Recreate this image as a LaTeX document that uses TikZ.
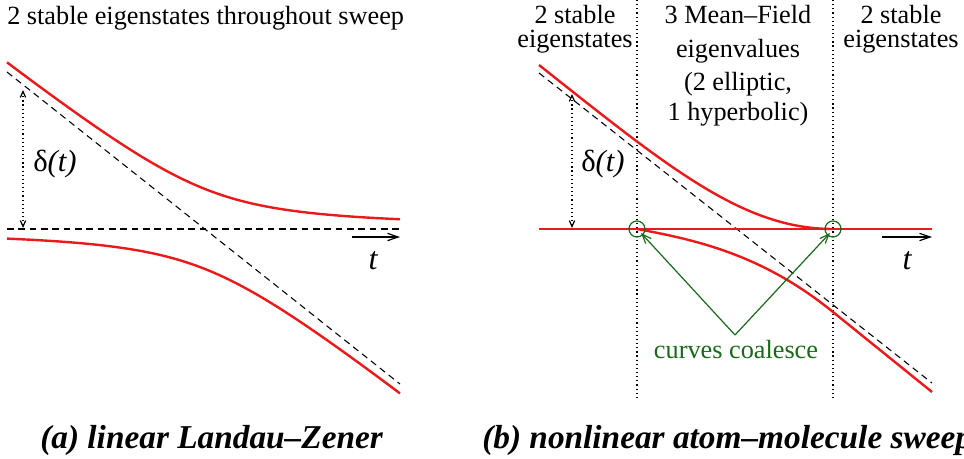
\documentclass[tikz,border=0pt]{standalone}
\usepackage{fontspec}
\setmainfont{Liberation Serif}
\usetikzlibrary{arrows.meta}
\definecolor{cred}{RGB}{235,25,25}
\definecolor{cgreen}{RGB}{25,105,25}
\begin{document}
\begin{tikzpicture}[x=0.75pt,y=-0.75pt,
  lbl/.style={inner sep=0pt,font=\fontsize{19.7pt}{24pt}\selectfont},
  dlbl/.style={inner sep=0pt,font=\fontsize{23pt}{28pt}\selectfont},
  tlbl/.style={inner sep=0pt,font=\fontsize{24pt}{28pt}\selectfont\itshape},
  captxt/.style={inner sep=0pt,font=\fontsize{25pt}{30pt}\selectfont\bfseries\itshape},
  redline/.style={draw=cred,line width=1.8pt},
  dashline/.style={draw=black,line width=0.8pt,dash pattern=on 5pt off 3.5pt},
  dotline/.style={draw=black,line width=0.9pt,dash pattern=on 0.9pt off 2.2pt},
  darrow/.style={dotline,{Straight Barb[length=4.5pt,width=4pt]}-{Straight Barb[length=4.5pt,width=4pt]}},
  tarrow/.style={draw=black,line width=0.9pt,-{Straight Barb[length=8pt,width=5.5pt]}},
  garrow/.style={draw=cgreen,line width=0.9pt,-{Straight Barb[length=7pt,width=5.5pt]}},
  gcirc/.style={circle,draw=cgreen,line width=0.9pt,minimum size=12pt,inner sep=0pt}]
\useasboundingbox (0,0) rectangle (964,459);

% ---------- panel (a) ----------
\node[lbl,anchor=base west] (topa) at (7,25) {2 stable eigenstates throughout sweep};
\coordinate (a-h0) at (7,229);
\coordinate (a-h1) at (400,229);
\coordinate (a-d0) at (7,72);
\coordinate (a-d1) at (400,384);
\draw[dashline] (a-h0) -- (a-h1);
\draw[dashline] (a-d0) -- (a-d1);
\draw[redline] plot[domain=7:400,samples=120,smooth]
  (\x,{229+0.3965*(\x-205)-10*sqrt(0.03965*(\x-205)*0.03965*(\x-205)+16)});
\draw[redline] plot[domain=7:400,samples=120,smooth]
  (\x,{229+0.3965*(\x-205)+10*sqrt(0.03965*(\x-205)*0.03965*(\x-205)+16)});
\coordinate (a-dtop) at (23,90);
\coordinate (a-dbot) at (23,228);
\draw[darrow] (a-dtop) -- (a-dbot);
\node[dlbl,anchor=base west] (a-delta) at (33,172) {δ\textit{(t)}};
\coordinate (a-t0) at (352,237);
\coordinate (a-t1) at (400,237);
\draw[tarrow] (a-t0) -- (a-t1);
\node[tlbl,anchor=base] (a-t) at (373,270) {t};
\node[captxt,anchor=base west] (capa) at (40,449) {(a) linear Landau–Zener};

% ---------- panel (b) ----------
\node[lbl,anchor=base] (bl1) at (575,24) {2 stable};
\node[lbl,anchor=base] (bl2) at (575,48) {eigenstates};
\node[lbl,anchor=base] (bm1) at (738,24) {3 Mean–Field};
\node[lbl,anchor=base] (bm2) at (738,58) {eigenvalues};
\node[lbl,anchor=base] (bm3) at (738,91) {(2 elliptic,};
\node[lbl,anchor=base] (bm4) at (738,121) {1 hyperbolic)};
\node[lbl,anchor=base] (br1) at (901,24) {2 stable};
\node[lbl,anchor=base] (br2) at (901,48) {eigenstates};

\coordinate (v1a) at (637,0);
\coordinate (v1b) at (637,400);
\coordinate (v2a) at (833,0);
\coordinate (v2b) at (833,400);
\draw[dotline] (v1a) -- (v1b);
\draw[dotline] (v2a) -- (v2b);

\coordinate (b-d0) at (539,73);
\coordinate (b-d1) at (932,383);
\draw[dashline] (b-d0) -- (b-d1);

\coordinate (b-h0) at (539,229);
\coordinate (b-h1) at (932,229);
\coordinate (p1) at (637,229);
\coordinate (p2) at (833,229);
\coordinate (u0) at (539,65);
\coordinate (l1) at (833,312);
\coordinate (l2) at (932,392);
\draw[redline] (b-h0) -- (b-h1);
\draw[redline] (u0) .. controls (669,168) and (743,229) .. (p2);
\draw[redline] (p1) .. controls (697,240) and (763,255) .. (l1) -- (l2);

\node[gcirc] (c1) at (p1) {};
\node[gcirc] (c2) at (p2) {};
\coordinate (apex) at (735,335);
\coordinate (tip1) at (641,233);
\coordinate (tip2) at (830,233);
\draw[garrow] (apex) -- (tip1);
\draw[garrow] (apex) -- (tip2);
\node[lbl,text=cgreen,anchor=base] (coal) at (736,359) {curves coalesce};

\coordinate (b-dtop) at (572,94);
\coordinate (b-dbot) at (572,228);
\draw[darrow] (b-dtop) -- (b-dbot);
\node[dlbl,anchor=base west] (b-delta) at (581,172) {δ\textit{(t)}};
\coordinate (b-t0) at (882,237);
\coordinate (b-t1) at (932,237);
\draw[tarrow] (b-t0) -- (b-t1);
\node[tlbl,anchor=base] (b-t) at (907,270) {t};
\node[captxt,anchor=base west] (capb) at (482,449) {(b) nonlinear atom–molecule sweep};
\end{tikzpicture}
\end{document}
